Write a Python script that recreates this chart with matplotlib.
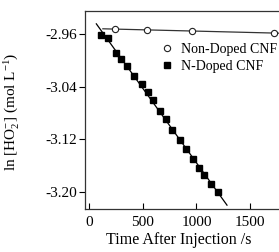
import numpy as np
import matplotlib
matplotlib.use("Agg")
import matplotlib.pyplot as plt

plt.rcParams['font.family'] = ['Liberation Serif', 'DejaVu Serif']
plt.rcParams['mathtext.fontset'] = 'custom'
plt.rcParams['mathtext.rm'] = 'Liberation Serif'
plt.rcParams['mathtext.it'] = 'Liberation Serif:italic'

# Data
non_doped_t = [240, 540, 960, 1720]
non_doped_y = [-2.9524, -2.9539, -2.9554, -2.9585]

n_doped_t = [107, 170, 248, 292, 354, 419, 488, 544, 596, 659, 712, 774,
             846, 902, 964, 1023, 1073, 1135, 1198]
n_doped_y = [-2.9615, -2.9665, -2.9893, -2.9984, -3.0086, -3.0237, -3.0359,
             -3.0476, -3.0602, -3.0764, -3.0895, -3.1057, -3.1209, -3.1350,
             -3.1498, -3.1639, -3.1741, -3.1878, -3.1995]

xticks = [0, 500, 1000, 1500]
yticks = [-2.96, -3.04, -3.12, -3.20]

W, H = 279, 252
fig = plt.figure(figsize=(W / 100, H / 100), dpi=100)
ax = fig.add_axes([85 / W, 1 - 209 / H, (W - 85) / W, (209 - 11) / H])

# fit lines
p1 = np.polyfit(non_doped_t, non_doped_y, 1)
xl1 = np.array([125, 1800])
ax.plot(xl1, np.polyval(p1, xl1), color='#333333', lw=0.9, zorder=1)
p2 = np.polyfit(n_doped_t, n_doped_y, 1)
xl2 = np.array([64, 1285])
ax.plot(xl2, np.polyval(p2, xl2), color='black', lw=0.9, zorder=1)

ax.plot(non_doped_t, non_doped_y, 'o', ms=4.5, mfc='white', mec='#222222',
        mew=0.8, ls='none', label='Non-Doped CNF', zorder=3)
ax.plot(n_doped_t, n_doped_y, 's', ms=5, mfc='black', mec='black',
        ls='none', label='N-Doped CNF', zorder=3)

ax.set_xlim(-42, 1771)
ax.set_ylim(-3.226, -2.925)
ax.set_xticks(xticks)
ax.set_xticklabels([str(v) for v in xticks])
ax.set_yticks(yticks)
ax.set_yticklabels(['%.2f' % v for v in yticks])
ax.tick_params(axis='x', direction='in', length=4, width=0.8, labelsize=11, pad=5)
ax.tick_params(axis='y', direction='out', length=4, width=0.8, labelsize=11, pad=2)
ax.spines['right'].set_visible(False)
for s in ['left', 'top', 'bottom']:
    ax.spines[s].set_linewidth(0.9)
    ax.spines[s].set_color('#333333')

ax.set_xlabel('Time After Injection /s', fontsize=11.5)
ax.xaxis.set_label_coords((179 - 85) / (W - 85), -(232 - 209) / (209 - 11))
ax.set_ylabel('ln [HO$_2^{-}$] (mol L$^{-1}$)', fontsize=11)
ax.yaxis.set_label_coords(-(85 - 21) / (W - 85), (209 - 112) / (209 - 11))

leg = ax.legend(loc='upper left', bbox_to_anchor=((160 - 85) / (W - 85), 1 - (43 - 11) / (209 - 11)),
                frameon=False, fontsize=10, handlelength=1.0, handletextpad=0.5,
                borderpad=0, labelspacing=0.3, borderaxespad=0)

fig.savefig('out.png', dpi=100)
